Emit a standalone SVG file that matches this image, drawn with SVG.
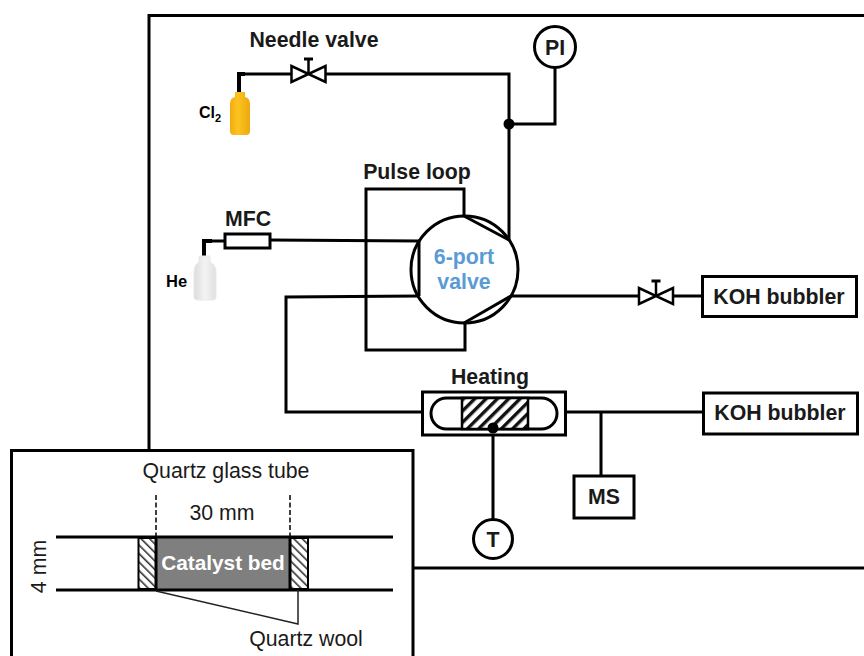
<svg xmlns="http://www.w3.org/2000/svg" width="864" height="656" viewBox="0 0 864 656">
<style>
text{font-family:"Liberation Sans",Arial,sans-serif;fill:#000}
.b{font-weight:bold;font-size:21.300px;text-anchor:middle;fill:#1a1a1a}
.r{font-size:21.300px;text-anchor:middle;fill:#1a1a1a}
.l{fill:none;stroke:#000;stroke-width:3}
.box{fill:#fff;stroke:#000;stroke-width:3}
.t{fill:none;stroke:#000;stroke-width:2.500}
</style>
<defs>
<pattern id="h1" width="8" height="8" patternUnits="userSpaceOnUse" patternTransform="rotate(45)"><rect width="8" height="8" fill="#fff"/><rect width="3.400" height="8" fill="#111"/></pattern>
<pattern id="h2" width="6" height="6" patternUnits="userSpaceOnUse" patternTransform="rotate(-45)"><rect width="6" height="6" fill="#fff"/><rect width="1.600" height="6" fill="#333"/></pattern>
<linearGradient id="y" x1="0" x2="1" y1="0" y2="0"><stop offset="0" stop-color="#f0ac10"/><stop offset=".4" stop-color="#fcc420"/><stop offset="1" stop-color="#eba90e"/></linearGradient>
<linearGradient id="w" x1="0" x2="1" y1="0" y2="0"><stop offset="0" stop-color="#dcdcdc"/><stop offset=".5" stop-color="#f3f3f3"/><stop offset="1" stop-color="#e0e0e0"/></linearGradient>
<g id="valve"><path class="t" d="M-17-8V8L17-8V8Z"/><path d="M0 0V-15" class="t"/><path d="M-4.500-15H4.500" class="l"/></g>
</defs>

<g id="frame"><path d="M149 452V15.500H864M413 568H864" fill="none" stroke="#000" stroke-width="3"/></g>

<g id="connectors">
<path d="M239 93V74H245" fill="none" stroke="#000" stroke-width="4"/>
<path class="l" d="M244 74H291M326 74H509V240"/>
<path class="l" d="M509 124H555V68"/>
<path d="M204 256V241H212" fill="none" stroke="#000" stroke-width="4"/>
<path class="l" d="M211 241H225M270 240L419 241"/>
<path class="l" d="M464 216V189H366V350H465V323"/>
<path class="l" d="M419 296L286 297V412H422"/>
<path class="l" d="M511 296H639M673 296H702"/>
<path class="l" d="M566 412H702M601 412V476"/>
<path class="l" d="M493 428V519"/>
<circle cx="509" cy="124" r="5.500" fill="#000"/>
</g>

<g id="cl2-cylinder">
<path d="M235 92h10v5q5 1 5 7v27q0 4-4 4h-12q-4 0-4-4v-27q0-6 5-7z" fill="url(#y)"/>
<text x="199" y="118" font-size="16" font-weight="bold" fill="#1a1a1a">Cl<tspan font-size="11" dy="4">2</tspan></text>
</g>
<g id="needle-valve">
<use href="#valve" x="308.500" y="74"/>
<text class="b" x="314" y="47">Needle valve</text>
</g>
<g id="pi"><circle class="box" cx="555" cy="47" r="20.500"/><text class="b" x="555" y="54.500">PI</text></g>
<g id="he-cylinder">
<path d="M199 256h11v6q6 3 6 10v25q0 3-3 3h-16q-3 0-3-3v-25q0-7 5-10z" fill="url(#w)" stroke="#eaeaea"/>
<text x="166" y="287" font-size="16.500" font-weight="bold" fill="#1a1a1a">He</text>
</g>
<g id="mfc"><rect class="box" x="225" y="234" width="45" height="14"/><text class="b" x="248" y="226">MFC</text></g>
<g id="pulse-loop"><text class="b" x="417" y="179">Pulse loop</text></g>
<g id="six-port-valve">
<circle cx="464.500" cy="269.500" r="53.500" fill="#fff" stroke="#000" stroke-width="3"/>
<path class="l" d="M464 216L509 240M511 296L464 323M419 296V241"/>
<text x="464" y="264" font-size="21.300" font-weight="bold" text-anchor="middle" style="fill:#5b9bd5">6-port</text>
<text x="464" y="289" font-size="21.300" font-weight="bold" text-anchor="middle" style="fill:#5b9bd5">valve</text>
</g>
<g id="outlet-valve"><use href="#valve" x="656" y="296"/></g>
<g id="koh-1"><rect class="box" x="702.500" y="276.500" width="154" height="40"/><text class="b" x="779" y="303.500">KOH bubbler</text></g>
<g id="heating">
<rect class="box" x="422.500" y="392" width="143" height="43"/>
<rect x="431" y="398" width="126" height="31" rx="15.500" fill="#fff" stroke="#000" stroke-width="3"/>
<rect x="462" y="398" width="66" height="31" fill="url(#h1)" stroke="#000" stroke-width="2.500"/>
<circle cx="493" cy="428" r="5.500" fill="#000"/>
<text class="b" x="490" y="384">Heating</text>
</g>
<g id="koh-2"><rect class="box" x="703.500" y="393" width="154" height="41"/><text class="b" x="780" y="420">KOH bubbler</text></g>
<g id="ms"><rect class="box" x="574" y="476" width="60" height="42"/><text class="b" x="604" y="504">MS</text></g>
<g id="t"><circle class="box" cx="493" cy="539" r="19.500"/><text class="b" x="493" y="546.500">T</text></g>

<g id="inset">
<path d="M11.500 656V450.500H413V656" fill="#fff" stroke="#000" stroke-width="3"/>
<text class="r" x="226" y="478">Quartz glass tube</text>
<text class="r" x="222" y="520">30 mm</text>
<path d="M156 495V537M290 495V537" fill="none" stroke="#000" stroke-width="1.500" stroke-dasharray="5 2.500"/>
<rect x="156" y="538" width="134" height="51" fill="#7f7f7f"/>
<rect x="138.500" y="538" width="17.500" height="51" fill="url(#h2)" stroke="#000" stroke-width="2"/>
<rect x="290" y="538" width="18" height="51" fill="url(#h2)" stroke="#000" stroke-width="2"/>
<path d="M156 537V590M290 537V590" fill="none" stroke="#000" stroke-width="3"/>
<path d="M56 537H393M56 590H393" fill="none" stroke="#000" stroke-width="3"/>
<path d="M156 591L298 624V590" fill="none" stroke="#222" stroke-width="1.500"/>
<text x="223" y="570" font-size="20.800" font-weight="bold" text-anchor="middle" style="fill:#fff">Catalyst bed</text>
<text class="r" x="306" y="646">Quartz wool</text>
<text class="r" transform="translate(45.500 566.500) rotate(-90)">4 mm</text>
</g>
</svg>
